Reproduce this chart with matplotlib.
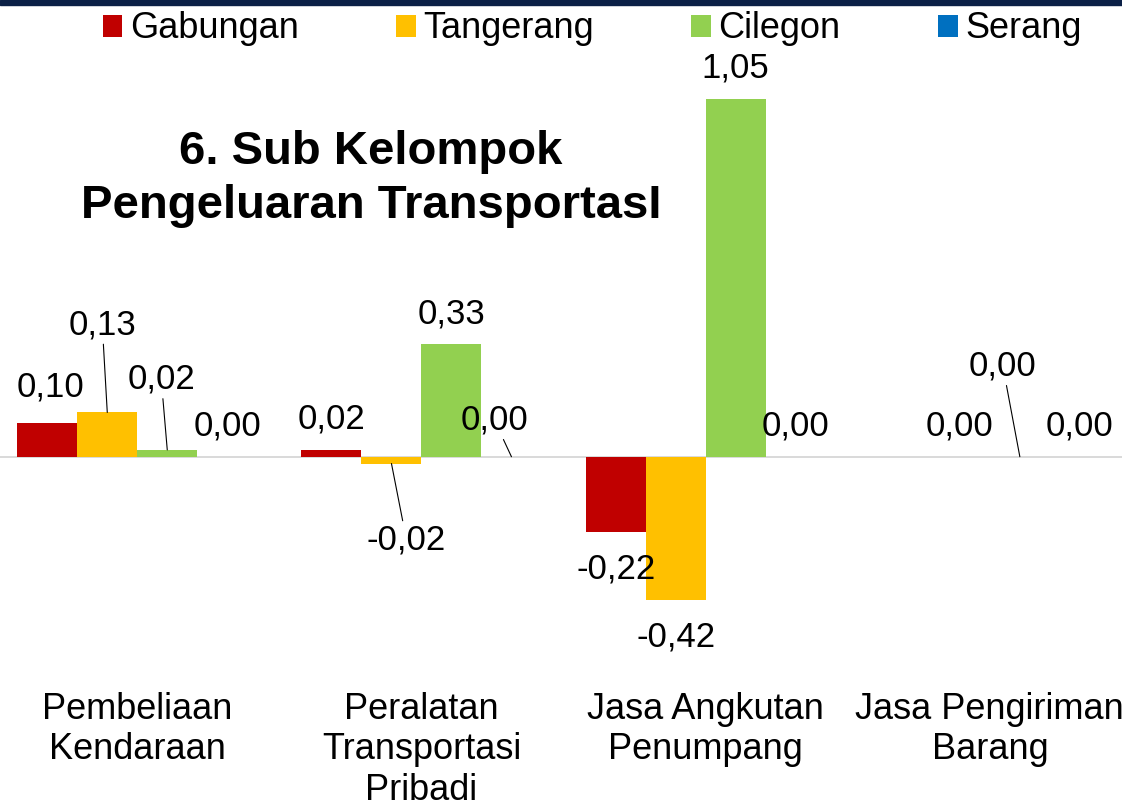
import numpy as np
import matplotlib.pyplot as plt
from matplotlib.patches import Rectangle

plt.rcParams['font.family'] = ['Liberation Sans', 'DejaVu Sans']

# data
categories = ['Pembeliaan\nKendaraan', 'Peralatan\nTransportasi\nPribadi',
              'Jasa Angkutan\nPenumpang', 'Jasa Pengiriman\nBarang']
series = ['Gabungan', 'Tangerang', 'Cilegon', 'Serang']
gabungan = [0.10, 0.02, -0.22, np.nan]
tangerang = [0.13, -0.02, -0.42, 0.00]
cilegon = [0.02, 0.33, 1.05, 0.00]
serang = [0.00, 0.00, 0.00, 0.00]
values = [gabungan, tangerang, cilegon, serang]
colors = ['#C00000', '#FFC000', '#92D050', '#0070C0']

# labels that were dragged away from their bars (pixel offsets, with leader line)
moved = {(1, 0): (-5, 78), (2, 0): (-6, 61), (1, 1): (15, -86),
         (3, 1): (-17, 27), (2, 3): (-17, 81)}
nudged = {(0, 0): (3, 26)}

fig = plt.figure(figsize=(11.22, 8.06), dpi=100)
ax = fig.add_axes([0, 0.1563, 1, 0.8437])

w = 0.2111
x = np.arange(len(categories))
for k, (name, vals, c) in enumerate(zip(series, values, colors)):
    xs = x + (k - 1.5) * w
    ax.bar(xs, vals, width=w, color=c, label=name, zorder=2)
    for j, v in enumerate(vals):
        if np.isnan(v):
            continue
        txt = f'{v:.2f}'.replace('.', ',')
        if (k, j) in moved:
            ax.annotate(txt, (xs[j], v), xytext=moved[(k, j)], textcoords='offset pixels',
                        ha='center', va='baseline', fontsize=25,
                        arrowprops=dict(arrowstyle='-', color='black', lw=0.8,
                                        shrinkA=0, shrinkB=0))
        else:
            dx, dy = nudged.get((k, j), (0, 21 if v >= 0 else -47))
            ax.annotate(txt, (xs[j], v), xytext=(dx, dy), textcoords='offset pixels',
                        ha='center', va='baseline', fontsize=25)

ax.axhline(0, color='#d9d9d9', lw=1.4, zorder=1)
ax.set_xlim(-0.483, 3.465)
ax.set_ylim(-0.6554, 1.3405)
ax.set_xticks(x)
ax.set_xticklabels(categories, fontsize=26, linespacing=1.21)
ax.tick_params(axis='x', length=0, pad=8.5)
ax.set_yticks([])
for s in ax.spines.values():
    s.set_visible(False)

fig.legend(loc='center', bbox_to_anchor=(592 / 1122, 1 - 29 / 806), ncol=4,
           frameon=False, fontsize=26, handlelength=0.55, handleheight=0.55,
           handletextpad=0.2, columnspacing=2.7, borderpad=0)

fig.text(371 / 1122, 1 - 179 / 806, '6. Sub Kelompok\nPengeluaran TransportasI',
         ha='center', va='center', fontsize=34, fontweight='bold', linespacing=1.32)

# dark band along the top edge
fig.patches.append(Rectangle((0, 1 - 5 / 806), 1, 5 / 806, transform=fig.transFigure,
                             color='#0b2046', zorder=5))

fig.savefig('out.png', dpi=100)
